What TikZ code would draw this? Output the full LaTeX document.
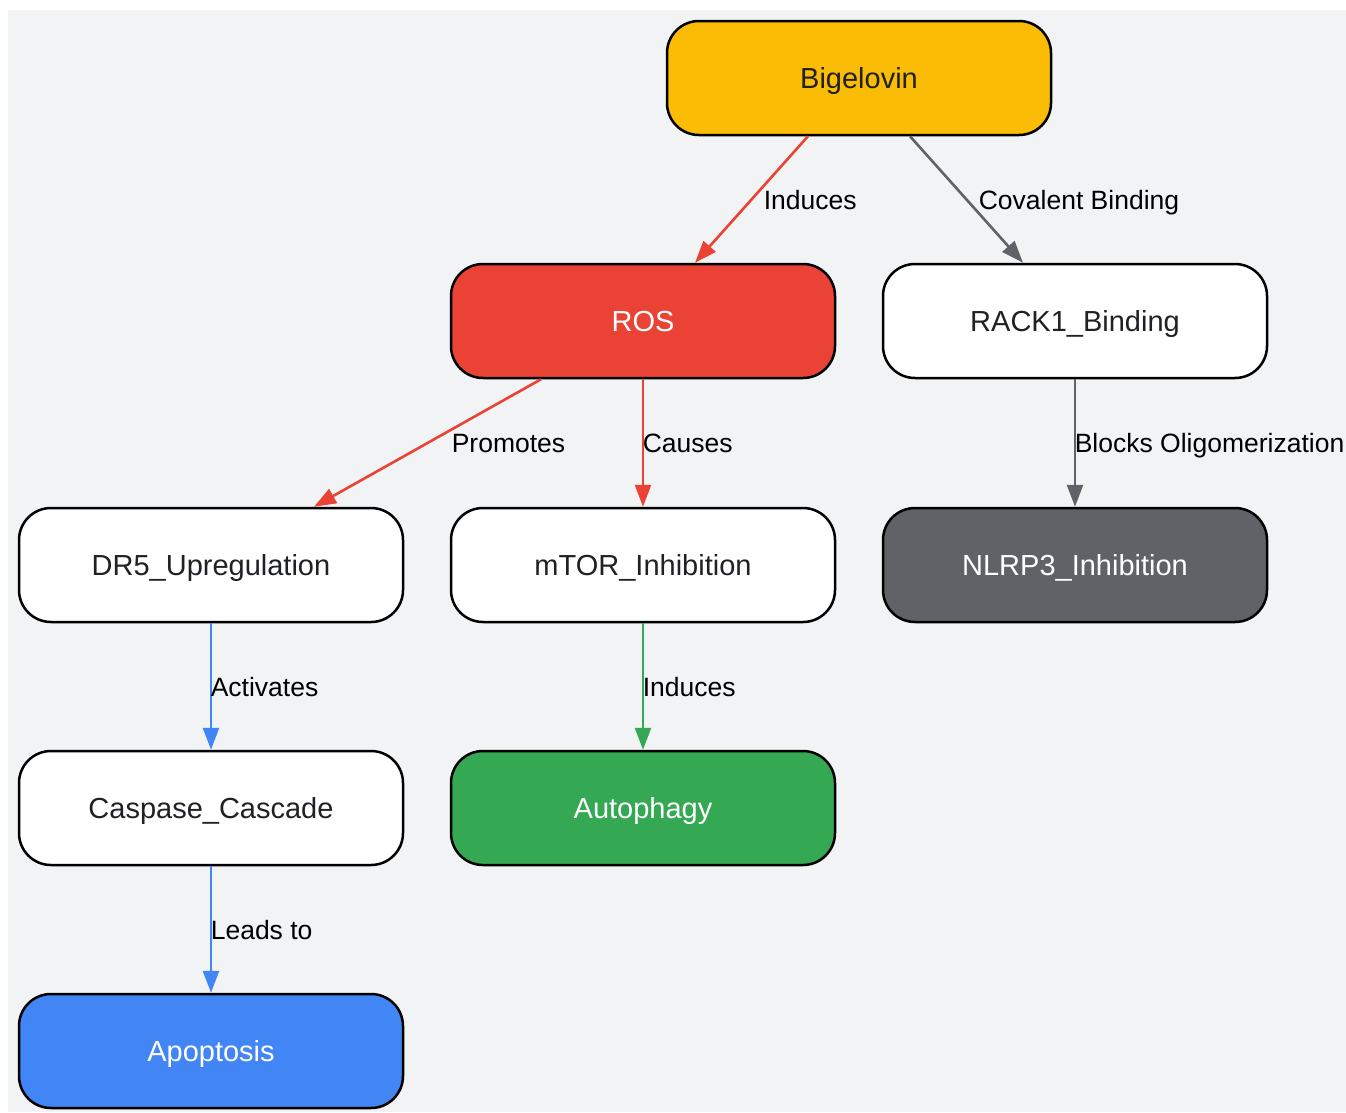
\documentclass[tikz,border=0pt]{standalone}
\usepackage{fontspec}
\setmainfont{Liberation Sans}
\usetikzlibrary{arrows.meta}
\definecolor{bgGrey}{HTML}{F1F3F4}
\definecolor{gYellow}{HTML}{FBBC05}
\definecolor{gRed}{HTML}{EA4335}
\definecolor{gGreen}{HTML}{34A853}
\definecolor{gBlue}{HTML}{4285F4}
\definecolor{gGrey}{HTML}{5F6368}
\definecolor{txtDark}{HTML}{202124}
\begin{document}
\begin{tikzpicture}[
    x=1pt, y=-1pt,
    stepbox/.style={rectangle, draw=black, line width=2.5pt, rounded corners=32pt, minimum width=384pt, minimum height=114pt, fill=white, text=txtDark, text height=21pt, text depth=0pt, font=\fontsize{29}{34}\selectfont},
    hot/.style={stepbox, text=white},
    link/.style={line width=2.6pt, -{Triangle[length=22pt, width=16pt]}},
    lbl/.style={midway, anchor=west, inner sep=0pt, text=black, text height=19pt, text depth=0pt, font=\fontsize{26.5}{31}\selectfont}
]
    \useasboundingbox (0,0) rectangle (1346,1112);
    \fill[bgGrey] (8,10) rectangle (1346,1112);

    \node[hot, fill=gYellow, text=txtDark] (bigelovin) at (859,78) {Bigelovin};
    \node[hot, fill=gRed] (ros) at (643,321) {ROS};
    \node[stepbox] (rack) at (1075,321) {RACK1\_Binding};
    \node[stepbox] (dr5) at (211,565) {DR5\_Upregulation};
    \node[stepbox] (mtor) at (643,565) {mTOR\_Inhibition};
    \node[hot, fill=gGrey] (nlrp) at (1075,565) {NLRP3\_Inhibition};
    \node[stepbox] (caspase) at (211,808) {Caspase\_Cascade};
    \node[hot, fill=gGreen] (autophagy) at (643,808) {Autophagy};
    \node[hot, fill=gBlue] (apoptosis) at (211,1051) {Apoptosis};

    \draw[link, gRed] ([xshift=-51pt]bigelovin.south) -- node[lbl, xshift=11pt] {Induces} ([xshift=52pt]ros.north);
    \draw[link, gGrey] ([xshift=51pt]bigelovin.south) -- node[lbl, xshift=11pt] {Covalent Binding} ([xshift=-52pt]rack.north);
    \draw[link, gRed] ([xshift=-102pt]ros.south) -- node[lbl, xshift=23pt] {Promotes} ([xshift=103pt]dr5.north);
    \draw[link, gRed] (ros) -- node[lbl, xshift=-1.5pt] {Causes} (mtor);
    \draw[link, gGrey] (rack) -- node[lbl, xshift=-1.5pt] {Blocks Oligomerization} (nlrp);
    \draw[link, gBlue] (dr5) -- node[lbl, xshift=-1.5pt] {Activates} (caspase);
    \draw[link, gGreen] (mtor) -- node[lbl, xshift=-1.5pt] {Induces} (autophagy);
    \draw[link, gBlue] (caspase) -- node[lbl, xshift=-1.5pt] {Leads to} (apoptosis);
\end{tikzpicture}
\end{document}
